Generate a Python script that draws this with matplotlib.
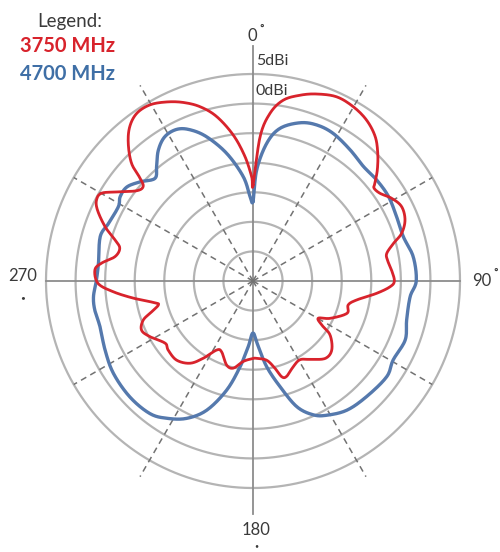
import numpy as np
import matplotlib
matplotlib.use("Agg")
import matplotlib.pyplot as plt

# ---- data (angle in degrees clockwise from top, gain in dBi) ----
red_angles = [0, 2.8, 5.8, 9.5, 14.2, 18.8, 24.4, 29.9, 35.2, 40.2, 44.3, 48.2, 51.3, 52.5,
              55.4, 59.2, 63.4, 68.1, 72.2, 75.0, 78.3, 81.1, 85.5, 90, 92.4, 95.7, 100.4,
              104.1, 109, 115.8, 119.7, 122.6, 125, 131.2, 137, 143.9, 149.2, 154.8, 160.6,
              163.3, 165.9, 170.2, 177.3, 180, 186.9, 192.7, 197.4, 203.9, 207.8, 212.7,
              217.4, 224, 230.8, 234.7, 241.6, 246.2, 250.4, 253.1, 255.8, 257.5, 261.8,
              265.6, 269.1, 274, 276.7, 280, 283.8, 286.5, 290.1, 294.5, 297.4, 300.1,
              303.2, 307.8, 310.7, 312.3, 314.1, 317.8, 321.4, 325.3, 329.7, 334.3, 338.7,
              343.1, 347.5, 352.3, 356.3, 359.3, 360]
red_gain = [-13.8, -5.6, -1.5, 1.0, 2.4, 3.4, 4.2, 4.0, 3.3, 2.0, 0.2, -1.8, -3.6, -4.2,
            -3.9, -2.7, -1.9, -2.3, -3.6, -5.4, -6.9, -7.0, -6.5, -6.1, -6.8, -9.0, -12.2,
            -13.4, -13.2, -15.5, -17.3, -16.2, -14.1, -12.3, -12.1, -13.6, -14.5, -14.0, -12.9,
            -13.1, -14.8, -16.4, -16.9, -16.9, -16.3, -14.9, -15.1, -16.9, -16.8, -14.5,
            -12.5, -11.4, -11.5, -11.8, -10.2, -9.4, -10.3, -12.1, -13.5, -13.0, -9.6,
            -6.3, -3.8, -3.2, -4.2, -6.3, -6.8, -5.7, -3.4, -1.1, -0.2, -0.4,
            -2.5, -5.1, -5.5, -4.2, -1.4, 1.4, 3.4, 4.5, 4.5, 3.6, 2.4,
            0.8, -1.5, -5.1, -8.9, -12.4, -13.8]

blue_angles = [0, 1.9, 5.7, 10, 16.5, 22.2, 28.5, 36.5, 44, 50.8, 58.1, 65.9, 73.6, 81.4, 90,
               95.7, 104.2, 111.2, 119.4, 125.6, 135.5, 144, 151.2, 155.8, 160.8, 165.7,
               170.9, 175.4, 180, 184.1, 188.6, 193.6, 199.7, 205.8, 212.1, 217.9, 226.7,
               236.5, 245, 253.4, 259.6, 264.4, 270, 276.5, 286.2, 291.7, 298.9, 302.4,
               306.7, 311.3, 316.3, 319.9, 324.1, 328.6, 333.3, 337.4, 342.2, 348.4, 354.7,
               358, 360]
blue_gain = [-16.5, -11.2, -6.6, -3.8, -2.1, -1.5, -1.6, -2.4, -3.1, -3.0, -3.0, -3.4, -3.5, -2.6, -2.4,
             -3.3, -3.2, -2.4, -2.8, -2.2, -2.6, -3.0, -4.1, -5.2, -7.5, -11.6,
             -15.3, -18.9, -21.2, -18.9, -15.3, -11.0, -6.8, -4.2, -2.6, -1.6, -1.4,
             -1.7, -2.4, -3.0, -2.8, -2.9, -3.5, -3.7, -3.1, -3.7, -4.0, -3.4,
             -3.4, -4.6, -6.0, -4.7, -2.7, -1.4, -1.3, -2.3, -4.4, -8.0, -12.3,
             -15.7, -16.5]

ring_values = [-25, -20, -15, -10, -5, 0, 5]
r_min, r_max = -30, 5
series_names = ["3750 MHz", "4700 MHz"]
red = "#d8232c"
blue = "#5579ad"
blue_text = "#3f6fa6"
ring_color = "#b4b4b4"
dash_color = "#727272"
text_color = "#3a3a3a"


def smooth_closed(ang_deg, gain, n=12):
    """Draw-time Catmull-Rom smoothing through the read points (in cartesian plot space)."""
    a = np.deg2rad(np.asarray(ang_deg, float))[:-1]
    r = np.asarray(gain, float)[:-1] - r_min
    x, y = r * np.sin(a), r * np.cos(a)
    P = np.stack([x, y], 1)
    m = len(P)
    out = []
    for i in range(m):
        p0, p1, p2, p3 = P[(i - 1) % m], P[i], P[(i + 1) % m], P[(i + 2) % m]
        t = np.linspace(0, 1, n, endpoint=False)[:, None]
        seg = 0.5 * ((2 * p1) + (-p0 + p2) * t + (2 * p0 - 5 * p1 + 4 * p2 - p3) * t ** 2
                     + (-p0 + 3 * p1 - 3 * p2 + p3) * t ** 3)
        out.append(seg)
    out.append(P[:1])
    S = np.vstack(out)
    th = np.arctan2(S[:, 0], S[:, 1])
    rr = np.hypot(S[:, 0], S[:, 1]) + r_min
    return np.unwrap(th), rr


W, H = 500, 552
fig = plt.figure(figsize=(W / 100, H / 100), dpi=100)
cx, cy, R = 253, 281, 207
ax = fig.add_axes([(cx - R) / W, 1 - (cy + R) / H, 2 * R / W, 2 * R / H], projection="polar")
ax.set_theta_zero_location("N")
ax.set_theta_direction(-1)
ax.set_ylim(r_min, r_max)
ax.grid(False)
ax.set_xticks([])
ax.set_yticks([])
ax.spines["polar"].set_visible(False)
ax.patch.set_alpha(0)

th = np.linspace(0, 2 * np.pi, 400)
for rv in ring_values:
    ax.plot(th, np.full_like(th, rv), color=ring_color, lw=1.6, zorder=1, clip_on=False)

# solid axes lines
ax.plot([0, 0], [r_min, 9.7], color="#8c8c8c", lw=1.3, zorder=2, clip_on=False)
ax.plot([np.pi, np.pi], [r_min, 9.4], color="#8c8c8c", lw=1.3, zorder=2, clip_on=False)
ax.plot([np.pi / 2, np.pi / 2], [r_min, 5], color="#8c8c8c", lw=1.3, zorder=2, clip_on=False)
ax.plot([3 * np.pi / 2, 3 * np.pi / 2], [r_min, 5], color="#8c8c8c", lw=1.3, zorder=2, clip_on=False)

# dashed radial lines
for a in [30, 150, 210, 330]:
    ax.plot([np.deg2rad(a)] * 2, [r_min, 8.2], color=dash_color, lw=1.1, ls=(0, (4, 3)),
            zorder=2, clip_on=False)
for a in [60, 120, 240, 300]:
    ax.plot([np.deg2rad(a)] * 2, [r_min, 5.0], color=dash_color, lw=1.1, ls=(0, (4, 3)),
            zorder=2, clip_on=False)

bt, br = smooth_closed(blue_angles, blue_gain)
rt, rr = smooth_closed(red_angles, red_gain)
ax.plot(bt, br, color=blue, lw=2.4, zorder=3, clip_on=False, solid_joinstyle="round")
ax.plot(rt, rr, color=red, lw=2.0, zorder=4, clip_on=False, solid_joinstyle="round")

fam = ["Lato", "DejaVu Sans"]
def ftext(x, y, s, **kw):
    fig.text(x / W, 1 - y / H, s, family=fam, **kw)

ftext(70, 21, "Legend:", fontsize=13.5, color=text_color, ha="center", va="center")
ftext(68, 46, series_names[0], fontsize=14.5, color=red, weight="bold", ha="center", va="center")
ftext(68, 74, series_names[1], fontsize=14.5, color=blue_text, weight="bold", ha="center", va="center")

ftext(252, 36, "0", fontsize=12, color=text_color, ha="center", va="center")
ftext(262, 32, "˚", fontsize=12, color=text_color, ha="center", va="center")
ftext(256, 61, "5dBi", fontsize=11.5, color=text_color, ha="left", va="center")
ftext(255, 91, "0dBi", fontsize=11.5, color=text_color, ha="left", va="center")
ftext(23, 276, "270", fontsize=12, color=text_color, ha="center", va="center")
ftext(23, 298, "•", fontsize=6, color=text_color, ha="center", va="center")
ftext(482, 281, "90", fontsize=12, color=text_color, ha="center", va="center")
ftext(496, 276, "˚", fontsize=12, color=text_color, ha="center", va="center")
ftext(256, 530, "180", fontsize=12, color=text_color, ha="center", va="center")
ftext(256, 546, "•", fontsize=5, color=text_color, ha="center", va="center")

fig.savefig("out.png", dpi=100)
